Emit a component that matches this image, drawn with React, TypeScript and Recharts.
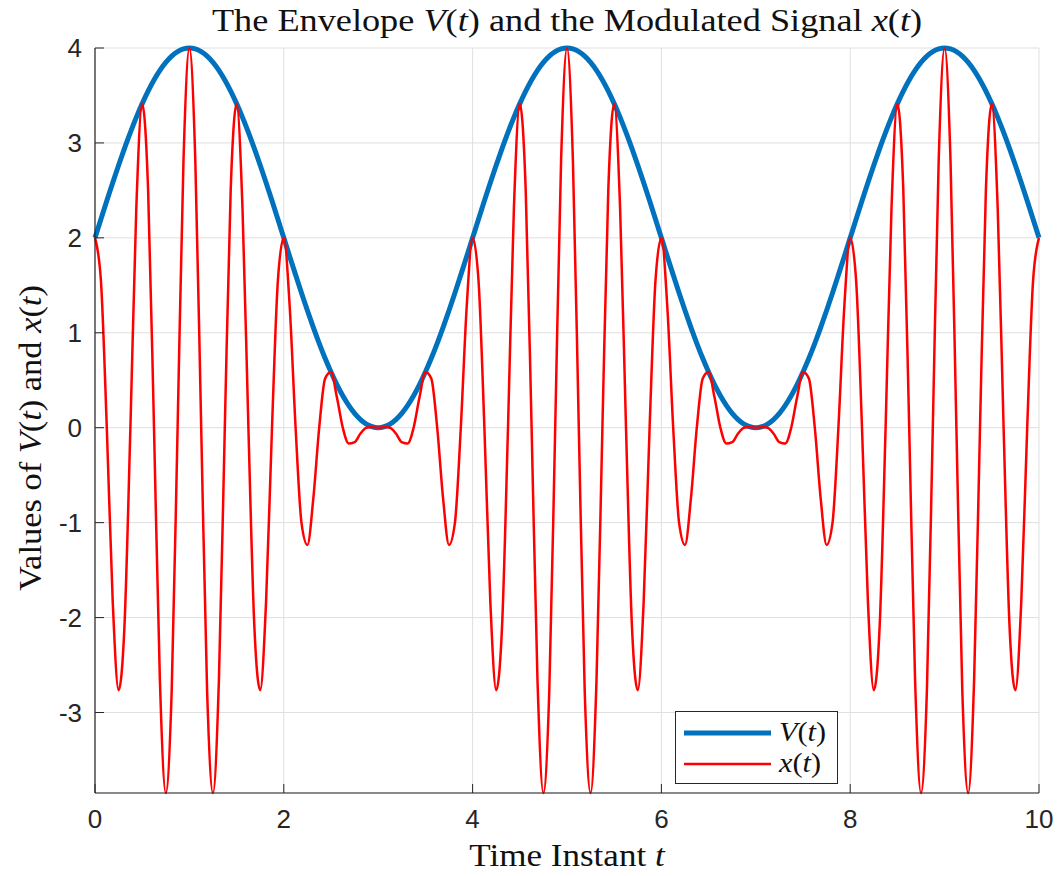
import React from "react";
import {
  LineChart,
  Line,
  XAxis,
  YAxis,
  CartesianGrid,
  Legend,
} from "recharts";

// Time instants t (step 1/16)
const T = [
  0, 0.0625, 0.125, 0.1875, 0.25, 0.3125, 0.375, 0.4375, 0.5, 0.5625, 0.625, 0.6875, 0.75, 0.8125, 0.875, 0.9375,
  1, 1.0625, 1.125, 1.1875, 1.25, 1.3125, 1.375, 1.4375, 1.5, 1.5625, 1.625, 1.6875, 1.75, 1.8125, 1.875, 1.9375,
  2, 2.0625, 2.125, 2.1875, 2.25, 2.3125, 2.375, 2.4375, 2.5, 2.5625, 2.625, 2.6875, 2.75, 2.8125, 2.875, 2.9375,
  3, 3.0625, 3.125, 3.1875, 3.25, 3.3125, 3.375, 3.4375, 3.5, 3.5625, 3.625, 3.6875, 3.75, 3.8125, 3.875, 3.9375,
  4, 4.0625, 4.125, 4.1875, 4.25, 4.3125, 4.375, 4.4375, 4.5, 4.5625, 4.625, 4.6875, 4.75, 4.8125, 4.875, 4.9375,
  5, 5.0625, 5.125, 5.1875, 5.25, 5.3125, 5.375, 5.4375, 5.5, 5.5625, 5.625, 5.6875, 5.75, 5.8125, 5.875, 5.9375,
  6, 6.0625, 6.125, 6.1875, 6.25, 6.3125, 6.375, 6.4375, 6.5, 6.5625, 6.625, 6.6875, 6.75, 6.8125, 6.875, 6.9375,
  7, 7.0625, 7.125, 7.1875, 7.25, 7.3125, 7.375, 7.4375, 7.5, 7.5625, 7.625, 7.6875, 7.75, 7.8125, 7.875, 7.9375,
  8, 8.0625, 8.125, 8.1875, 8.25, 8.3125, 8.375, 8.4375, 8.5, 8.5625, 8.625, 8.6875, 8.75, 8.8125, 8.875, 8.9375,
  9, 9.0625, 9.125, 9.1875, 9.25, 9.3125, 9.375, 9.4375, 9.5, 9.5625, 9.625, 9.6875, 9.75, 9.8125, 9.875, 9.9375,
  10,
];

// Envelope V(t)
const V_VALUES = [
  2, 2.196, 2.39, 2.581, 2.765, 2.943, 3.111, 3.269, 3.414, 3.546, 3.663, 3.764, 3.848, 3.914, 3.962, 3.99,
  4, 3.99, 3.962, 3.914, 3.848, 3.764, 3.663, 3.546, 3.414, 3.269, 3.111, 2.943, 2.765, 2.581, 2.39, 2.196,
  2, 1.804, 1.61, 1.419, 1.235, 1.057, 0.889, 0.731, 0.586, 0.454, 0.337, 0.236, 0.152, 0.086, 0.038, 0.01,
  0, 0.01, 0.038, 0.086, 0.152, 0.236, 0.337, 0.454, 0.586, 0.731, 0.889, 1.057, 1.235, 1.419, 1.61, 1.804,
  2, 2.196, 2.39, 2.581, 2.765, 2.943, 3.111, 3.269, 3.414, 3.546, 3.663, 3.764, 3.848, 3.914, 3.962, 3.99,
  4, 3.99, 3.962, 3.914, 3.848, 3.764, 3.663, 3.546, 3.414, 3.269, 3.111, 2.943, 2.765, 2.581, 2.39, 2.196,
  2, 1.804, 1.61, 1.419, 1.235, 1.057, 0.889, 0.731, 0.586, 0.454, 0.337, 0.236, 0.152, 0.086, 0.038, 0.01,
  0, 0.01, 0.038, 0.086, 0.152, 0.236, 0.337, 0.454, 0.586, 0.731, 0.889, 1.057, 1.235, 1.419, 1.61, 1.804,
  2, 2.196, 2.39, 2.581, 2.765, 2.943, 3.111, 3.269, 3.414, 3.546, 3.663, 3.764, 3.848, 3.914, 3.962, 3.99,
  4, 3.99, 3.962, 3.914, 3.848, 3.764, 3.663, 3.546, 3.414, 3.269, 3.111, 2.943, 2.765, 2.581, 2.39, 2.196,
  2,
];

// Modulated signal x(t)
const X_VALUES = [
  2, 1.553, 0, -1.825, -2.765, -2.081, 0, 2.312, 3.414, 2.507, 0, -2.662, -3.848, -2.768, 0, 2.821,
  4, 2.821, 0, -2.768, -3.848, -2.662, 0, 2.507, 3.414, 2.312, 0, -2.081, -2.765, -1.825, 0, 1.553,
  2, 1.276, 0, -1.003, -1.235, -0.747, 0, 0.517, 0.586, 0.321, 0, -0.167, -0.152, -0.061, 0, 0.007,
  0, 0.007, 0, -0.061, -0.152, -0.167, 0, 0.321, 0.586, 0.517, 0, -0.747, -1.235, -1.003, 0, 1.276,
  2, 1.553, 0, -1.825, -2.765, -2.081, 0, 2.312, 3.414, 2.507, 0, -2.662, -3.848, -2.768, 0, 2.821,
  4, 2.821, 0, -2.768, -3.848, -2.662, 0, 2.507, 3.414, 2.312, 0, -2.081, -2.765, -1.825, 0, 1.553,
  2, 1.276, 0, -1.003, -1.235, -0.747, 0, 0.517, 0.586, 0.321, 0, -0.167, -0.152, -0.061, 0, 0.007,
  0, 0.007, 0, -0.061, -0.152, -0.167, 0, 0.321, 0.586, 0.517, 0, -0.747, -1.235, -1.003, 0, 1.276,
  2, 1.553, 0, -1.825, -2.765, -2.081, 0, 2.312, 3.414, 2.507, 0, -2.662, -3.848, -2.768, 0, 2.821,
  4, 2.821, 0, -2.768, -3.848, -2.662, 0, 2.507, 3.414, 2.312, 0, -2.081, -2.765, -1.825, 0, 1.553,
  2,
];

const X_TICKS = [0, 2, 4, 6, 8, 10];
const Y_TICKS = [-3, -2, -1, 0, 1, 2, 3, 4];
const X_DOMAIN: [number, number] = [0, 10];
const Y_DOMAIN: [number, number] = [-3.848, 4];

const data = T.map((t, i) => ({ t, V: V_VALUES[i], x: X_VALUES[i] }));

const AXIS_COLOR = "#262626";
const SANS = "'Liberation Sans', Arial, Helvetica, sans-serif";
const SERIF = "'Liberation Serif', 'Times New Roman', serif";
const TICK_LEN = 9;
const TICK_FONT = 26;

const BottomTick = (props: any) => {
  const { x, y, payload } = props;
  return (
    <g>
      <line x1={x} x2={x} y1={y} y2={y - TICK_LEN} stroke={AXIS_COLOR} strokeWidth={1} />
      <text x={x} y={y + 35} textAnchor="middle" fontFamily={SANS} fontSize={TICK_FONT} fill={AXIS_COLOR}>
        {payload.value}
      </text>
    </g>
  );
};

const TopTick = (props: any) => {
  const { x, y } = props;
  return <line x1={x} x2={x} y1={y} y2={y + TICK_LEN} stroke={AXIS_COLOR} strokeWidth={1} />;
};

const LeftTick = (props: any) => {
  const { x, y, payload } = props;
  return (
    <g>
      <line x1={x} x2={x + TICK_LEN} y1={y} y2={y} stroke={AXIS_COLOR} strokeWidth={1} />
      <text x={x - 13} y={y + 9} textAnchor="end" fontFamily={SANS} fontSize={TICK_FONT} fill={AXIS_COLOR}>
        {payload.value}
      </text>
    </g>
  );
};

const RightTick = (props: any) => {
  const { x, y } = props;
  return <line x1={x} x2={x - TICK_LEN} y1={y} y2={y} stroke={AXIS_COLOR} strokeWidth={1} />;
};

const legendLabels: Record<string, React.ReactNode> = {
  V: (
    <span>
      <i>V</i>(<i>t</i>)
    </span>
  ),
  x: (
    <span>
      <i>x</i>(<i>t</i>)
    </span>
  ),
};

const renderLegend = (props: any) => {
  const { payload } = props;
  return (
    <div
      style={{
        width: 163,
        height: 73,
        boxSizing: "border-box",
        border: `1.5px solid ${AXIS_COLOR}`,
        background: "#fff",
        paddingTop: 5,
      }}
    >
      {(payload || []).map((entry: any) => (
        <div key={entry.dataKey} style={{ display: "flex", alignItems: "center", height: 31 }}>
          <svg width={96} height={20} style={{ marginLeft: 7 }}>
            <line
              x1={1}
              x2={88}
              y1={10}
              y2={10}
              stroke={entry.color}
              strokeWidth={entry.dataKey === "V" ? 5 : 2.5}
            />
          </svg>
          <span
            style={{
              fontFamily: SERIF,
              fontSize: 27,
              color: "#111",
              display: "inline-block",
              transform: "scaleX(1.12)",
              transformOrigin: "left center",
            }}
          >
            {legendLabels[entry.dataKey]}
          </span>
        </div>
      ))}
    </div>
  );
};

export default function App() {
  return (
    <div style={{ position: "absolute", left: 0, top: 0, width: 1059, height: 876, background: "#fff" }}>
      <div
        style={{
          position: "absolute",
          left: 95,
          width: 944,
          top: 3,
          textAlign: "center",
          fontFamily: SERIF,
          fontSize: 31,
          color: "#111",
          whiteSpace: "nowrap",
          transform: "scaleX(1.17)",
          transformOrigin: "center",
        }}
      >
        The Envelope <i>V</i>(<i>t</i>) and the Modulated Signal <i>x</i>(<i>t</i>)
      </div>
      <div
        style={{
          position: "absolute",
          left: 95,
          width: 944,
          top: 838,
          textAlign: "center",
          fontFamily: SERIF,
          fontSize: 31,
          color: "#111",
          whiteSpace: "nowrap",
          transform: "scaleX(1.13)",
          transformOrigin: "center",
        }}
      >
        Time Instant <i>t</i>
      </div>
      <div
        style={{
          position: "absolute",
          left: 31,
          top: 438,
          transform: "translate(-50%, -50%) rotate(-90deg) scaleX(1.11)",
          fontFamily: SERIF,
          fontSize: 31,
          color: "#111",
          whiteSpace: "nowrap",
        }}
      >
        Values of <i>V</i>(<i>t</i>) and <i>x</i>(<i>t</i>)
      </div>
      <LineChart
        width={1059}
        height={876}
        data={data}
        margin={{ top: 48, right: 20, bottom: 43, left: 35 }}
      >
        <CartesianGrid stroke="#dfdfdf" strokeWidth={1} />
        <XAxis
          dataKey="t"
          type="number"
          domain={X_DOMAIN}
          ticks={X_TICKS}
          height={40}
          tickSize={0}
          tickMargin={0}
          tick={<BottomTick />}
          tickLine={false}
          axisLine={{ stroke: AXIS_COLOR, strokeWidth: 1.2 }}
        />
        <XAxis
          xAxisId="top"
          orientation="top"
          type="number"
          domain={X_DOMAIN}
          ticks={X_TICKS}
          allowDataOverflow
          height={0}
          tickSize={0}
          tickMargin={0}
          tick={<TopTick />}
          tickLine={false}
          axisLine={{ stroke: AXIS_COLOR, strokeWidth: 1.2 }}
        />
        <YAxis
          type="number"
          domain={Y_DOMAIN}
          ticks={Y_TICKS}
          width={60}
          tickSize={0}
          tickMargin={0}
          tick={<LeftTick />}
          tickLine={false}
          axisLine={{ stroke: AXIS_COLOR, strokeWidth: 1.2 }}
        />
        <YAxis
          yAxisId="right"
          orientation="right"
          type="number"
          domain={Y_DOMAIN}
          ticks={Y_TICKS}
          allowDataOverflow
          width={0}
          tickSize={0}
          tickMargin={0}
          tick={<RightTick />}
          tickLine={false}
          axisLine={{ stroke: AXIS_COLOR, strokeWidth: 1.2 }}
        />
        <Line
          dataKey="V"
          name="V(t)"
          type="monotone"
          stroke="#0072BD"
          strokeWidth={5}
          dot={false}
          activeDot={false}
          isAnimationActive={false}
        />
        <Line
          dataKey="x"
          name="x(t)"
          type="monotone"
          stroke="#FF0000"
          strokeWidth={2.5}
          dot={false}
          activeDot={false}
          isAnimationActive={false}
        />
        <Legend
          layout="vertical"
          align="center"
          verticalAlign="middle"
          content={renderLegend}
          wrapperStyle={{ position: "absolute", left: 675, top: 711, width: 163, height: 73 }}
        />
      </LineChart>
    </div>
  );
}
